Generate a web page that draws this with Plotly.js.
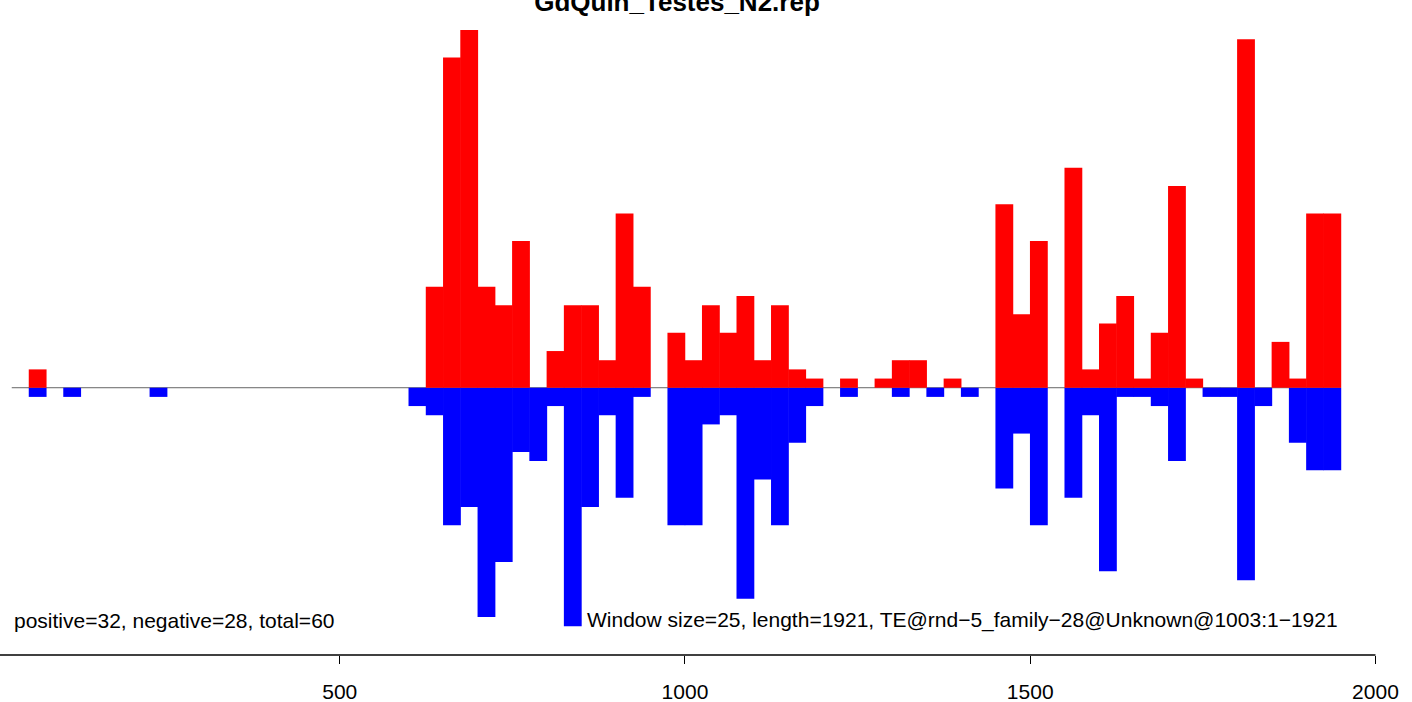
<!DOCTYPE html>
<html>
<head>
<meta charset="utf-8">
<script src="https://cdn.plot.ly/plotly-3.0.1.min.js"></script>
<style>html,body{margin:0;padding:0;background:#fff;}#chart{width:1412px;height:702px;}</style>
</head>
<body>
<div id="chart"></div>
<script>
// Window start positions (window size 25)
const binStart = [25,50,75,100,125,150,175,200,225,250,275,300,325,350,375,400,425,450,475,500,
  525,550,575,600,625,650,675,700,725,750,775,800,825,850,875,900,925,950,975,1000,
  1025,1050,1075,1100,1125,1150,1175,1200,1225,1250,1275,1300,1325,1350,1375,1400,1425,1450,1475,1500,
  1525,1550,1575,1600,1625,1650,1675,1700,1725,1750,1775,1800,1825,1850,1875,1900,1925];
// Positive-strand counts per window (red, upward)
const positive = [0,2,0,0,0,0,0,0,0,0,0,0,0,0,0,0,0,0,0,0,
  0,0,0,0,11,36,39,11,9,16,0,4,9,9,3,19,11,0,6,3,
  9,6,10,3,9,2,1,0,1,0,1,3,3,0,1,0,0,20,8,16,
  0,24,2,7,10,1,6,22,1,0,0,38,0,5,1,19,19];
// Negative-strand counts per window (blue, downward)
const negative = [0,1,0,1,0,0,0,0,1,0,0,0,0,0,0,0,0,0,0,0,
  0,0,0,2,3,15,13,25,19,7,8,2,26,13,3,12,1,0,15,15,
  4,3,23,10,15,6,2,0,1,0,0,1,0,1,0,1,0,11,5,15,
  0,12,3,20,1,1,2,8,0,1,1,21,2,0,6,9,9];
const xTicks = [500, 1000, 1500, 2000];
const titleText = "GdQuin_Testes_N2.rep";
const leftNote = "positive=32, negative=28, total=60";
const rightNote = "Window size=25, length=1921, TE@rnd\u22125_family\u221228@Unknown@1003:1\u22121921";
const windowSize = 25;
const lineStart = 25, lineEnd = 1950;

const centers = binStart.map(s => s + windowSize / 2);
const posPlot = positive.map(v => v === 0 ? null : v);
const negPlot = negative.map(v => v === 0 ? null : -v);

const FONT = "Liberation Sans, Arial, Helvetica, sans-serif";
const drawWidth = windowSize + 0.8; // tiny overlap hides anti-aliasing seams

const traces = [
  {type: 'bar', x: centers, y: negPlot, width: drawWidth, base: 0,
   marker: {color: '#0000FF', line: {width: 0}}, hoverinfo: 'x+y'},
  {type: 'bar', x: centers, y: posPlot, width: drawWidth, base: 0,
   marker: {color: '#FF0000', line: {width: 0}}, hoverinfo: 'x+y'}
];

const axisY = (702 - 655) / 702;

const layout = {
  width: 1412, height: 702,
  margin: {l: 0, r: 0, t: 0, b: 0, pad: 0},
  paper_bgcolor: '#ffffff', plot_bgcolor: '#ffffff',
  showlegend: false,
  barmode: 'overlay',
  title: {text: '<b>' + titleText + '</b>', font: {family: FONT, size: 26, color: '#000'},
          xref: 'container', yref: 'container', x: 677/1412, xanchor: 'center', y: 1 - 2/702, yanchor: 'middle'},
  xaxis: {range: [7.97, 2052.9], tickvals: xTicks, ticktext: xTicks.map(String),
          ticks: 'outside', ticklen: 8, tickwidth: 1, tickcolor: '#000',
          showline: false, showgrid: false, zeroline: false,
          anchor: 'free', position: axisY, ticklabelstandoff: 10,
          tickfont: {family: FONT, size: 21, color: '#000'}},
  yaxis: {range: [-34.27, 42.28], visible: false, showgrid: false, zeroline: false, domain: [0, 1]},
  shapes: [
    {type: 'line', xref: 'x', yref: 'y', x0: lineStart, x1: lineEnd, y0: 0, y1: 0,
     line: {color: '#666666', width: 1}, layer: 'below'},
    {type: 'line', xref: 'x', yref: 'paper', x0: 0, x1: 2000, y0: axisY, y1: axisY,
     line: {color: '#000000', width: 1.5}}
  ],
  annotations: [
    {text: leftNote, xref: 'x', yref: 'paper', x: lineStart, y: (702 - 620) / 702,
     xanchor: 'left', yanchor: 'middle', showarrow: false,
     font: {family: FONT, size: 21, color: '#000'}},
    {text: rightNote, xref: 'x', yref: 'paper', x: 1948, y: (702 - 620) / 702,
     xanchor: 'right', yanchor: 'middle', showarrow: false,
     font: {family: FONT, size: 21, color: '#000'}}
  ]
};

Plotly.newPlot('chart', traces, layout, {staticPlot: true, displayModeBar: false});
</script>
</body>
</html>
